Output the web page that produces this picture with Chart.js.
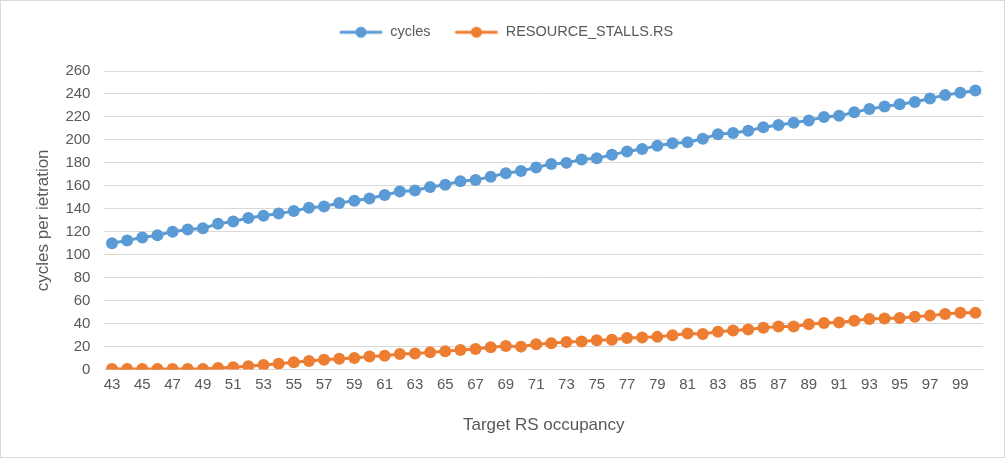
<!DOCTYPE html>
<html><head><meta charset="utf-8">
<script src="https://cdn.jsdelivr.net/npm/chart.js@4.4.1/dist/chart.umd.min.js"></script>
<style>
html,body{margin:0;padding:0;background:#fff;}
#wrap{position:absolute;left:0;top:0;width:1003px;height:456px;border:1px solid #d9d9d9;background:#fff;}
canvas{display:block;}
</style></head><body>
<div id="wrap"><canvas id="c" width="1003" height="456"></canvas></div>
<script>
const occupancy = [];
for (let v = 43; v <= 100; v++) occupancy.push(String(v));
const cycles = [110,112.5,115,117,120,122,123,127,129,132,134,136,138,141,142,145,147,149,152,155,156,159,161,164,165,168,171,173,176,179,180,183,184,187,190,192,195,197,198,201,205,206,208,211,213,215,217,220,221,224,227,229,231,233,236,239,241,243];
const stalls = [0.5,0.5,0.5,0.5,0.5,0.5,0.5,1.5,2,3,4,5,6.5,7.5,8.5,9.5,10,11.5,12,13.5,14,15,16,17,18,19.5,20.5,20,22,23,24,24.5,25.5,26,27.5,28,28.5,30,31.5,31,33,34,35,36.5,37.5,37.5,39.5,40.5,41,42.5,44,44.5,45,46,47,48.5,49.5,49.5];
const yTicks = [0,20,40,60,80,100,120,140,160,180,200,220,240,260];

function legendIcon(color){
  const c = document.createElement('canvas');
  c.width = 44; c.height = 14;
  const x = c.getContext('2d');
  x.strokeStyle = color; x.lineWidth = 3; x.lineCap='round';
  x.beginPath(); x.moveTo(2,7); x.lineTo(42,7); x.stroke();
  x.fillStyle = color; x.beginPath(); x.arc(22,7,5.5,0,Math.PI*2); x.fill();
  return c;
}
const blue = '#5b9bd5', orange = '#ed7d31';
const font = "'Liberation Sans', Arial, sans-serif";
const legendHeightPlugin = {
  id:'legendHeight',
  beforeInit(chart){
    const lg = chart.legend;
    const fit = lg.fit;
    lg.fit = function(){ fit.call(this); this.height = 70; };
  }
};
new Chart(document.getElementById('c'), {
  type: 'line',
  data: {
    labels: occupancy,
    datasets: [
      {label:'cycles', data:cycles, borderColor:blue, backgroundColor:blue, borderWidth:3, pointRadius:6, pointHoverRadius:6, pointBorderWidth:0},
      {label:'RESOURCE_STALLS.RS', data:stalls, borderColor:orange, backgroundColor:orange, borderWidth:3, pointRadius:6, pointHoverRadius:6, pointBorderWidth:0}
    ]
  },
  plugins:[legendHeightPlugin],
  options: {
    responsive:false, animation:false,
    layout:{padding:{left:28,right:21,top:0,bottom:21}},
    plugins:{
      tooltip:{enabled:false},
      legend:{position:'top', labels:{
        font:{family:font,size:14.5}, color:'#595959', usePointStyle:true, pointStyleWidth:44, boxHeight:14, padding:24,
        generateLabels(chart){
          return chart.data.datasets.map((d,i)=>({text:d.label, pointStyle:legendIcon(d.borderColor), fillStyle:d.borderColor, strokeStyle:d.borderColor, lineWidth:0, hidden:false, datasetIndex:i, fontColor:'#595959'}));
        }
      }}
    },
    scales:{
      x:{
        offset:true,
        grid:{display:false, drawTicks:false},
        border:{display:true, color:'#d9d9d9', width:1},
        ticks:{autoSkip:false, maxRotation:0, minRotation:0, padding:6, color:'#595959', font:{family:font,size:15},
          callback:function(v,i){ return i%2===0 ? this.getLabelForValue(v) : ''; }},
        title:{display:true, text:'Target RS occupancy', color:'#595959', font:{family:font,size:17}, padding:{top:16,bottom:0}}
      },
      y:{
        min:0, max:260,
        afterBuildTicks(axis){ axis.ticks = yTicks.map(v=>({value:v})); },
        grid:{color:'#d9d9d9', drawTicks:false},
        border:{display:false},
        ticks:{padding:14, color:'#595959', font:{family:font,size:15}},
        title:{display:true, text:'cycles per ietration', color:'#595959', font:{family:font,size:17}, padding:{top:4,bottom:-2}}
      }
    }
  }
});
</script>
</body></html>
